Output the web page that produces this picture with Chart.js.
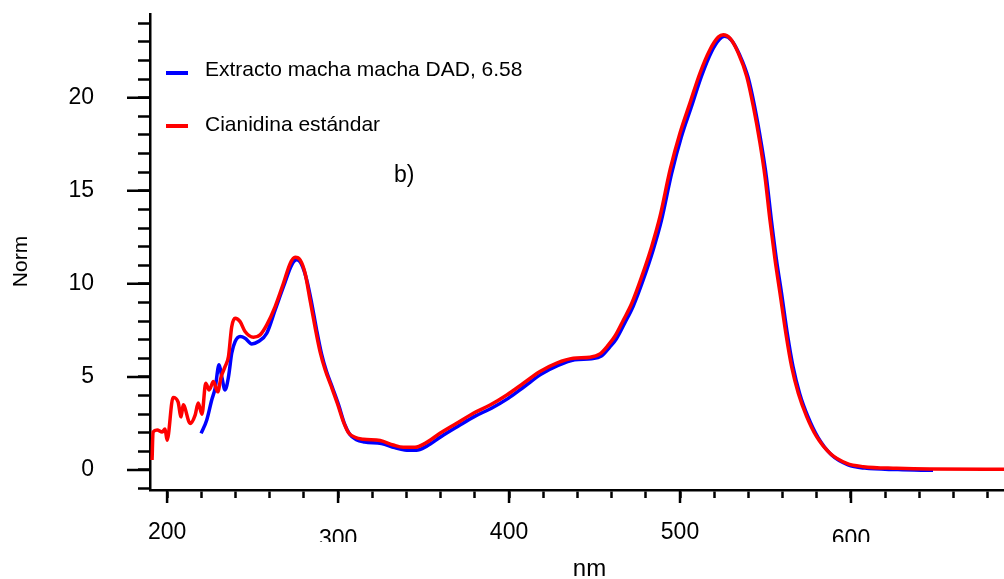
<!DOCTYPE html>
<html>
<head>
<meta charset="utf-8">
<script src="https://cdn.jsdelivr.net/npm/chart.js@4.4.0/dist/chart.umd.min.js"></script>
<style>
  body { margin: 0; background: #fff; }
  #wrap { width: 1004px; height: 579px; position: relative; }
</style>
</head>
<body>
<div id="wrap"><canvas id="spectrumChart"></canvas></div>
<script>
// Cianidina estándar (red) - wavelength in nm and normalised absorbance
const redNm = [191.2, 191.8, 194.2, 197.1, 198.8, 200.0, 203.5, 206.4, 208.2, 209.4, 213.5, 216.4, 218.2, 220.4,
    222.6, 224.6, 227.1, 229.6, 231.6, 233.9, 235.9, 237.8, 239.8, 242.7, 245.6, 250.5, 254.4, 258.3, 263.2,
    268.1, 272.0, 274.9, 277.8, 280.7, 283.6, 286.5, 289.5, 292.4, 296.0, 299.5, 303.5, 306.0, 309.9, 314.8,
    324.6, 332.3, 338.2, 345.0, 350.9, 359.6, 369.4, 379.1, 388.9, 398.7, 408.4, 418.1, 427.9, 437.6, 447.4,
    453.2, 458.1, 462.0, 466.9, 471.8, 477.6, 483.4, 488.3, 494.2, 500.0, 505.8, 511.7, 517.5, 522.4, 525.3,
    529.2, 534.1, 539.0, 542.9, 546.8, 549.7, 552.6, 555.6, 558.5, 562.0, 565.3, 569.2, 574.1, 579.9, 587.7,
    597.5, 607.2, 626.7, 646.2, 689.5];
const redNorm = [0.54, 2.04, 2.15, 2.04, 2.2, 1.6, 3.9, 3.66, 2.85, 3.5, 2.5, 2.95, 3.6, 3.0,
    4.66, 4.3, 4.75, 4.2, 5.0, 5.55, 6.1, 7.7, 8.15, 7.97, 7.44, 7.13, 7.26, 7.8, 8.78,
    10.04, 11.1, 11.43, 11.29, 10.57, 9.14, 7.7, 6.35, 5.4, 4.5, 3.6, 2.5, 2.02, 1.76, 1.65,
    1.58, 1.34, 1.22, 1.22, 1.43, 1.97, 2.51, 3.05, 3.49, 4.03, 4.66, 5.29, 5.74, 6.0, 6.06,
    6.24, 6.72, 7.2, 8.06, 8.96, 10.39, 12.0, 13.62, 16.13, 18.1, 19.71, 21.33, 22.58, 23.26, 23.39,
    23.2, 22.4, 21.15, 19.53, 17.56, 15.77, 13.44, 11.29, 9.5, 7.3, 5.55, 4.12, 2.87, 1.79, 0.9,
    0.36, 0.18, 0.09, 0.05, 0.04];

// Extracto macha macha (blue)
const blueNm = [219.9, 223.2, 226.1, 228.1, 230.4, 232.0, 233.9, 235.9, 237.8, 239.8, 242.7, 245.6, 249.5, 253.4,
    258.3, 263.2, 268.1, 272.9, 275.8, 278.8, 281.7, 284.5, 287.4, 290.3, 293.2, 296.8, 300.3, 303.9, 306.8,
    310.7, 315.6, 325.4, 333.1, 339.0, 345.8, 351.7, 360.4, 370.2, 379.9, 389.7, 399.5, 409.2, 418.9, 428.7,
    438.4, 448.2, 454.0, 458.9, 462.8, 467.7, 472.6, 478.4, 484.2, 489.1, 495.0, 500.8, 506.6, 512.5, 518.3,
    523.2, 526.1, 530.0, 534.9, 539.8, 543.7, 547.6, 550.5, 553.4, 556.4, 559.3, 562.8, 566.1, 570.0, 574.9,
    580.7, 588.5, 598.3, 608.0, 627.5, 648.0];
const blueNorm = [1.97, 2.69, 3.76, 4.39, 5.65, 5.0, 4.3, 5.0, 6.27, 6.9, 7.17, 7.08, 6.77, 6.9,
    7.35, 8.6, 9.86, 11.02, 11.29, 11.02, 10.2, 9.0, 7.55, 6.25, 5.3, 4.4, 3.5, 2.45, 1.92,
    1.62, 1.5, 1.42, 1.2, 1.08, 1.06, 1.27, 1.8, 2.35, 2.88, 3.32, 3.85, 4.5, 5.15, 5.62,
    5.92, 5.98, 6.12, 6.6, 7.05, 7.9, 8.8, 10.2, 11.8, 13.4, 15.9, 17.9, 19.5, 21.15, 22.45,
    23.15, 23.3, 23.1, 22.3, 21.1, 19.5, 17.5, 15.75, 13.45, 11.3, 9.55, 7.3, 5.55, 4.1, 2.85,
    1.75, 0.82, 0.28, 0.1, 0.02, -0.02];

const seriesLabels = ['Extracto macha macha DAD, 6.58', 'Cianidina estándar'];
const xMajorTicks = [200, 300, 400, 500, 600];
const yMajorTicks = [0, 5, 10, 15, 20];
const FONT = '"Liberation Sans", Arial, sans-serif';

function toPoints(xs, ys) {
    const pts = [];
    for (let i = 0; i < xs.length; i++) {
        pts.push({ x: xs[i], y: ys[i] });
    }
    return pts;
}

// longer major ticks, odd x labels, axis titles, legend and panel tag
const extrasPlugin = {
    id: 'extras',
    afterDraw(chart) {
        const ctx = chart.ctx;
        const xs = chart.scales.x;
        const ys = chart.scales.y;
        ctx.save();
        ctx.strokeStyle = '#000';
        ctx.lineWidth = 2.5;
        ctx.beginPath();
        for (const v of xMajorTicks) {
            const px = xs.getPixelForValue(v);
            ctx.moveTo(px, xs.top);
            ctx.lineTo(px, xs.top + 13);
        }
        for (const v of yMajorTicks) {
            const py = ys.getPixelForValue(v);
            ctx.moveTo(ys.right, py);
            ctx.lineTo(ys.right - 23, py);
        }
        ctx.stroke();

        // 300 and 600 sit a bit lower and are cut off in the original
        ctx.fillStyle = '#000';
        ctx.font = '23px ' + FONT;
        ctx.textAlign = 'center';
        ctx.textBaseline = 'alphabetic';
        ctx.save();
        ctx.beginPath();
        ctx.rect(0, 0, chart.width, 542);
        ctx.clip();
        for (const v of [300, 600]) {
            ctx.fillText(String(v), xs.getPixelForValue(v), 545.5);
        }
        ctx.restore();

        // axis titles
        ctx.font = '24px ' + FONT;
        ctx.fillText('nm', 589.5, 576);
        ctx.save();
        ctx.translate(27, 261.5);
        ctx.rotate(-Math.PI / 2);
        ctx.font = '21px ' + FONT;
        ctx.fillText('Norm', 0, 0);
        ctx.restore();

        // legend
        const rows = [
            { ds: chart.data.datasets[1], y: 73, base: 76 },
            { ds: chart.data.datasets[0], y: 126, base: 131 }
        ];
        ctx.font = '21px ' + FONT;
        ctx.textAlign = 'left';
        ctx.lineWidth = 4;
        for (const r of rows) {
            ctx.strokeStyle = r.ds.borderColor;
            ctx.beginPath();
            ctx.moveTo(166, r.y);
            ctx.lineTo(188, r.y);
            ctx.stroke();
            ctx.fillText(r.ds.label, 205, r.base);
        }
        ctx.font = '23px ' + FONT;
        ctx.fillText('b)', 394, 182);
        ctx.restore();
    }
};

const ctx = document.getElementById('spectrumChart').getContext('2d');
const spectrumChart = new Chart(ctx, {
    type: 'line',
    data: {
        datasets: [{
            label: seriesLabels[1],
            data: toPoints(redNm, redNorm),
            borderColor: '#ff0000',
            borderWidth: 3.5,
            pointRadius: 0,
            cubicInterpolationMode: 'monotone',
            order: 0
        }, {
            label: seriesLabels[0],
            data: toPoints(blueNm, blueNorm),
            borderColor: '#0000ff',
            borderWidth: 3.5,
            pointRadius: 0,
            cubicInterpolationMode: 'monotone',
            order: 1
        }]
    },
    options: {
        responsive: true,
        maintainAspectRatio: false,
        animation: false,
        layout: { padding: { top: 14, right: 0, bottom: 0, left: 0 } },
        plugins: {
            legend: { display: false },
            tooltip: { enabled: false }
        },
        scales: {
            x: {
                type: 'linear',
                min: 190,
                max: 689.5,
                afterFit: (scale) => {
                    scale.height = 89;
                    scale.paddingLeft = 0;
                    scale.paddingRight = 0;
                },
                ticks: {
                    stepSize: 20,
                    includeBounds: false,
                    autoSkip: false,
                    maxRotation: 0,
                    padding: 21,
                    color: '#000',
                    font: { family: FONT, size: 23 },
                    callback: (v) => ([200, 400, 500].includes(v) ? String(v) : '')
                },
                grid: { drawOnChartArea: false, tickLength: 8, tickWidth: 2.5, tickColor: '#000' },
                border: { color: '#000', width: 2.5 }
            },
            y: {
                min: -1.075,
                max: 24.5,
                afterFit: (scale) => {
                    scale.width = 150;
                    scale.paddingTop = 0;
                    scale.paddingBottom = 0;
                },
                ticks: {
                    stepSize: 1,
                    includeBounds: false,
                    autoSkip: false,
                    padding: 44,
                    color: '#000',
                    font: { family: FONT, size: 23 },
                    callback: (v) => (v % 5 === 0 ? String(v) : '')
                },
                grid: { drawOnChartArea: false, tickLength: 12, tickWidth: 2.5, tickColor: '#000' },
                border: { color: '#000', width: 2.5 }
            }
        }
    },
    plugins: [extrasPlugin]
});
</script>
</body>
</html>
